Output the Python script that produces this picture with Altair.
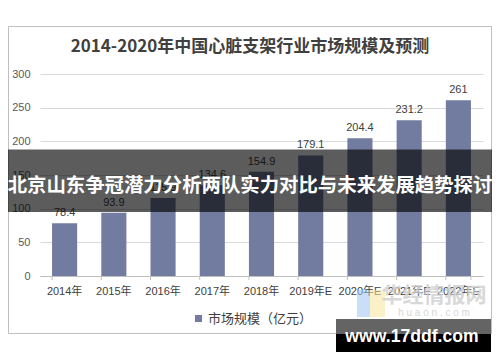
import altair as alt
import pandas as pd

years = ["2014年", "2015年", "2016年", "2017年", "2018年", "2019年E", "2020年E", "2021年E", "2022年E"]
values = [78.4, 93.9, 115.9, 134.6, 154.9, 179.1, 204.4, 231.2, 261.0]
labels = ["78.4", "93.9", "115.9", "134.6", "154.9", "179.1", "204.4", "231.2", "261"]
series = "市场规模（亿元）"
y_ticks = [0, 50, 100, 150, 200, 250, 300]
title_text = "2014-2020年中国心脏支架行业市场规模及预测"
banner_text = "北京山东争冠潜力分析两队实力对比与未来发展趋势探讨"
watermark_text = "www.17ddf.com"
logo_text = "华经情报网"
logo_sub = "h u a o n . c o m"

df = pd.DataFrame({"year": years, "value": values, "label": labels, "series": [series] * len(years)})
deco = pd.DataFrame({"k": [0]})

W, H = 443, 202
BAR = "#727CA1"
FONT = "Liberation Sans, Noto Sans CJK SC"
CJK = "Noto Sans CJK SC"

xscale = alt.Scale(paddingInner=0.49, paddingOuter=0.245)
xaxis = alt.Axis(title=None, labelAngle=0, labelFontSize=11, labelColor="#404040",
                 labelFont=FONT, tickSize=0, labelPadding=9, domainColor="#bfbfbf",
                 grid=False)
x = alt.X("year:N", sort=years, scale=xscale, axis=xaxis)
y = alt.Y("value:Q", scale=alt.Scale(domain=[0, 300], nice=False),
          axis=alt.Axis(title=None, values=y_ticks, labelFontSize=11, labelColor="#595959",
                        labelFont=FONT, tickSize=0, labelPadding=10, domain=False,
                        gridColor="#d9d9d9"))

base = alt.Chart(df)

frame = alt.Chart(deco).mark_rect(fillOpacity=0, stroke="#bfbfbf", strokeWidth=1).encode(
    x=alt.value(-31.5), x2=alt.value(451.5), y=alt.value(-47.5), y2=alt.value(259.5))

title = alt.Chart(deco).mark_text(fontSize=17, fontWeight="bold", font=CJK, color="#404040",
                                  baseline="middle", align="center").encode(
    x=alt.value(210), y=alt.value(-27), text=alt.value(title_text))

bars = base.mark_bar().encode(
    x=x, y=y,
    color=alt.Color("series:N", scale=alt.Scale(domain=[series], range=[BAR]),
                    legend=alt.Legend(title=None, orient="none", legendX=152, legendY=238,
                                      symbolType="square", symbolSize=50, symbolStrokeWidth=0,
                                      labelFontSize=13, labelFont=CJK, labelColor="#404040",
                                      padding=0, labelOffset=3)))

ticks = base.mark_rule(color="#bfbfbf").encode(
    x=alt.X("year:N", sort=years, scale=xscale, bandPosition=0, axis=xaxis),
    y=alt.value(H), y2=alt.value(H + 4))
last_tick = base.transform_filter(alt.datum.year == years[-1]).mark_rule(color="#bfbfbf").encode(
    x=alt.X("year:N", sort=years, scale=xscale, bandPosition=1, axis=xaxis),
    y=alt.value(H), y2=alt.value(H + 4))

vlabels = base.mark_text(baseline="bottom", dy=-5, fontSize=11, font=FONT, color="#404040").encode(
    x=x, y=y, text="label:N")

logo_blue = alt.Chart(deco).mark_rect(color="#9cc3f2", opacity=0.55).encode(
    x=alt.value(317), x2=alt.value(330), y=alt.value(216), y2=alt.value(243))
logo_yellow = alt.Chart(deco).mark_rect(color="#f7e49a", opacity=0.55).encode(
    x=alt.value(330), x2=alt.value(345), y=alt.value(216), y2=alt.value(243))
logo_t = alt.Chart(deco).mark_text(fontSize=21, fontWeight="bold", font=CJK, color="#cfcfcf",
                                   opacity=0.8).encode(
    x=alt.value(394), y=alt.value(222), text=alt.value(logo_text))
logo_s = alt.Chart(deco).mark_text(fontSize=10, font=FONT, color="#d5d5d5").encode(
    x=alt.value(394), y=alt.value(239), text=alt.value(logo_sub))

band = alt.Chart(deco).mark_rect(color="#000000", opacity=0.64).encode(
    x=alt.value(-40), x2=alt.value(460), y=alt.value(75.5), y2=alt.value(138))
band_t = alt.Chart(deco).mark_text(fontSize=19.4, fontWeight="bold", font=CJK, color="#ffffff",
                                   baseline="middle", align="center").encode(
    x=alt.value(210), y=alt.value(112), text=alt.value(banner_text))

wm_gray = alt.Chart(deco).mark_rect(color="#646464").encode(
    x=alt.value(296), x2=alt.value(451), y=alt.value(245), y2=alt.value(260))
wm_black = alt.Chart(deco).mark_rect(color="#000000").encode(
    x=alt.value(296), x2=alt.value(451), y=alt.value(260), y2=alt.value(279))
wm_t = alt.Chart(deco).mark_text(fontSize=17.6, fontWeight="bold", font="Liberation Sans",
                                 color="#ffffff", baseline="middle", align="center").encode(
    x=alt.value(372), y=alt.value(263), text=alt.value(watermark_text))

chart = alt.layer(
    frame, title, bars, ticks, last_tick, vlabels,
    logo_blue, logo_yellow, logo_t, logo_s,
    band, band_t, wm_gray, wm_black, wm_t
).properties(
    width=W, height=H,
    padding={"left": 32, "top": 66, "right": 9, "bottom": 76},
    autosize=alt.AutoSizeParams(type="none"),
    background="#ffffff",
).configure_view(strokeWidth=0)

chart.save("out.html", embed_options={"renderer": "svg", "actions": False})
